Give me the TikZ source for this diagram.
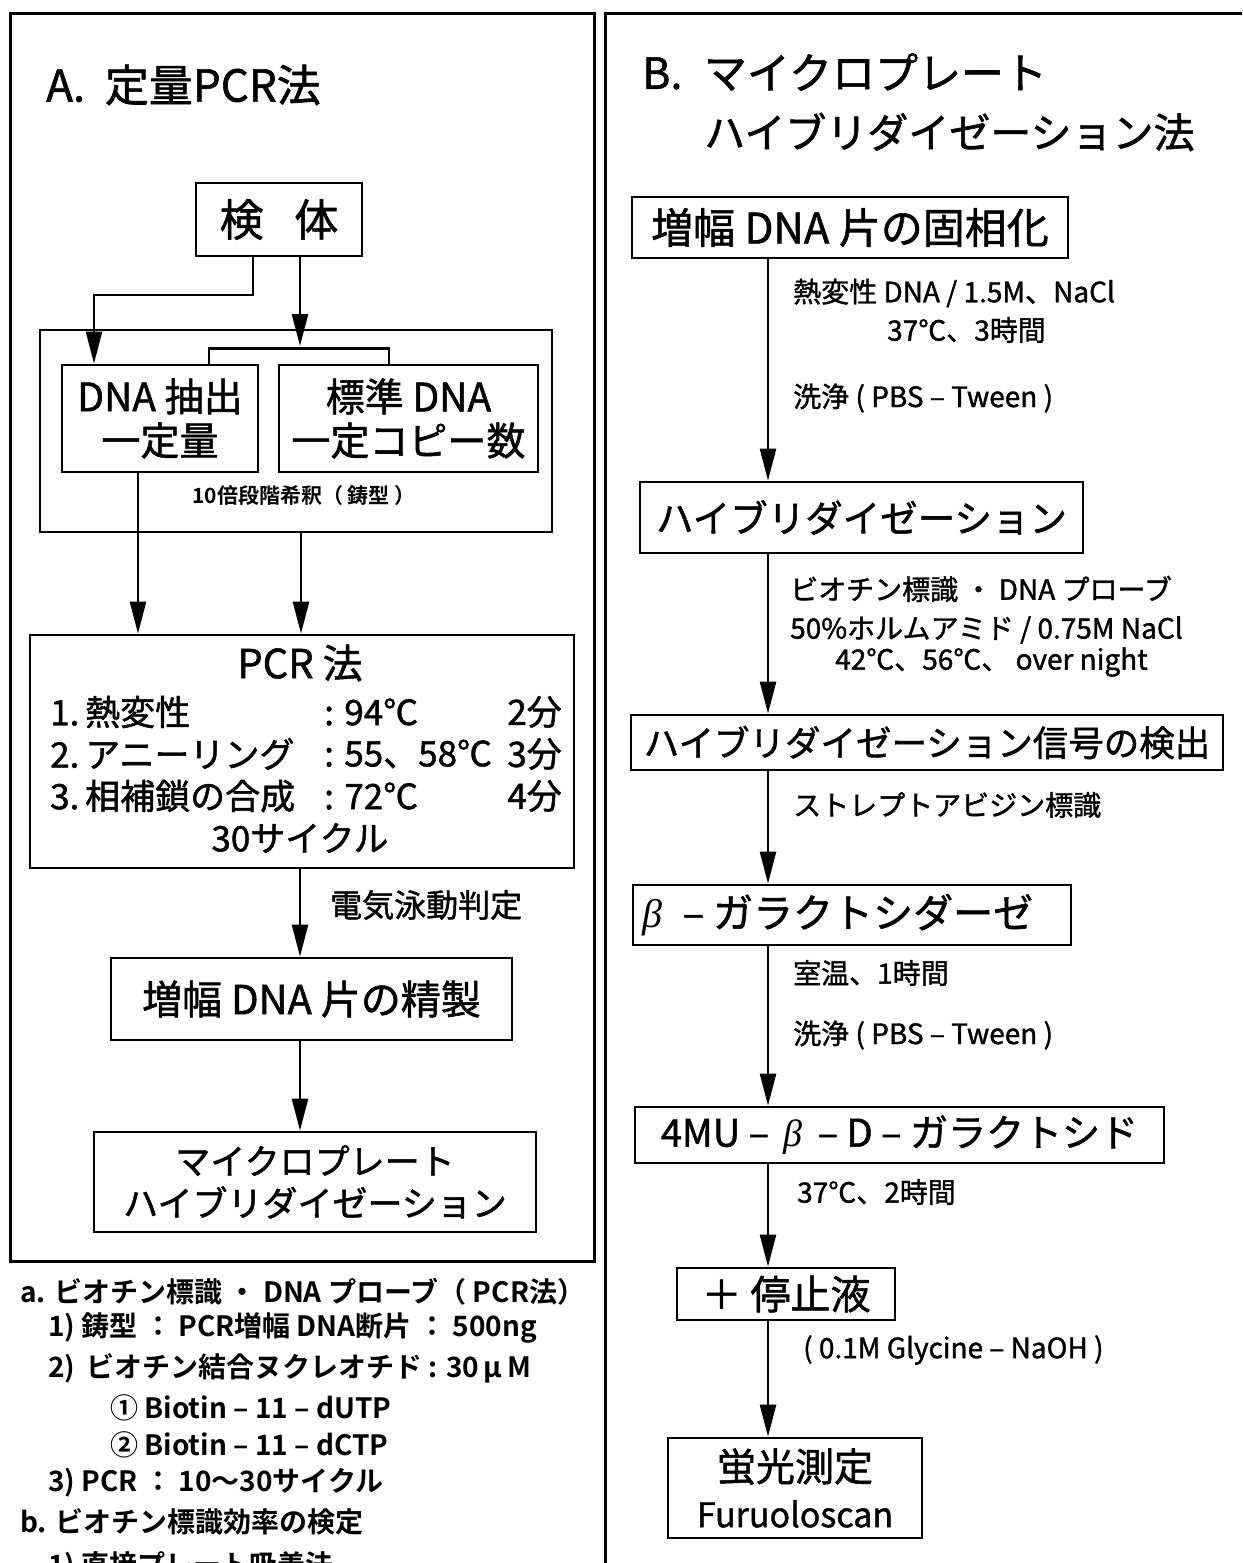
\documentclass[tikz,border=0pt]{standalone}
\usepackage{fontspec}
\setmainfont{Noto Sans CJK JP}[FakeBold=1.3, BoldFont={Noto Sans CJK JP Bold}, BoldFeatures={FakeBold=0}]
\newfontfamily\betafont{Liberation Serif}
\newcommand{\bt}{{\betafont\itshape β}}
\usetikzlibrary{arrows.meta}
\begin{document}
\begin{tikzpicture}[x=1pt,y=-1pt,
  box/.style={draw, line width=2.8pt, inner sep=0pt, align=center},
  arr/.style={line width=2.5pt, -{Triangle[length=32pt,width=16pt]}},
  ln/.style={line width=2.5pt},
  frame/.style={line width=3pt},
  title/.style={anchor=west, inner sep=0pt, font=\fontsize{43}{50}\selectfont},
  lab/.style={anchor=west, inner sep=0pt, font=\fontsize{28}{32}\selectfont},
  row/.style={inner sep=0pt, font=\fontsize{35}{40}\selectfont},
  note/.style={anchor=west, inner sep=0pt, font=\bfseries\fontsize{28}{32}\selectfont}]
\clip (0,0) rectangle (1242,1563);
\fill[white] (0,0) rectangle (1242,1563);

% ---------- Panel A ----------
\node[draw, frame, inner sep=0pt, minimum width=584, minimum height=1247] (panelA) at (302,637.5) {};
\node[title, font=\fontsize{44}{50}\selectfont] (tA) at (46,85) {A.\hspace{0.45em}定量PCR法};

\node[box, minimum width=166, minimum height=73, font=\fontsize{44}{48}\selectfont] (kentai) at (279,219.5) {検\hspace{0.7em}体};

\node[box, minimum width=512, minimum height=202] (grp) at (296,431) {};
\node[box, minimum width=196, minimum height=107, font=\fontsize{39}{44}\selectfont] (dna) at (160,418.5) {DNA 抽出\\一定量};
\node[box, minimum width=259, minimum height=107, font=\fontsize{39}{44}\selectfont] (std) at (408.5,418.5) {標準 DNA\\一定コピー数};
\node[inner sep=0pt, font=\bfseries\fontsize{21}{24}\selectfont] (dil) at (304,496) {10倍段階希釈（ 鋳型 ）};

\draw[ln] ([xshift=49pt]dna.north) -- ++(0,-15) -| ([xshift=-19.5pt]std.north);

\coordinate (kbend) at (94,295);
\coordinate (karr) at (300,346);
\draw[arr] ([xshift=-26pt]kentai.south) |- (kbend) -- (kbend |- dna.north);
\draw[arr] ([xshift=21pt]kentai.south) -- (karr);

\node[box, minimum width=544, minimum height=233] (pcr) at (302,751.5) {};
\node[row, font=\fontsize{40}{44}\selectfont] (pcrT) at (300,663) {PCR 法};
\node[row, anchor=west] (r1a) at (50,712) {1.\,熱変性};
\node[row, anchor=west] (r1b) at (324,712) {: 94℃};
\node[row, anchor=east] (r1c) at (562,712) {2分};
\node[row, anchor=west] (r2a) at (50,754) {2.\,アニーリング};
\node[row, anchor=west] (r2b) at (324,754) {: 55、58℃};
\node[row, anchor=east] (r2c) at (562,754) {3分};
\node[row, anchor=west] (r3a) at (50,796) {3.\,相補鎖の合成};
\node[row, anchor=west] (r3b) at (324,796) {: 72℃};
\node[row, anchor=east] (r3c) at (562,796) {4分};
\node[row] (r4) at (300,838) {30サイクル};

\draw[arr] ([xshift=-22pt]dna.south) -- ([xshift=-22pt]dna.south |- pcr.north);
\draw[arr] ([xshift=5pt]grp.south) -- ([xshift=5pt]grp.south |- pcr.north);

\node[box, minimum width=401, minimum height=82, font=\fontsize{40}{44}\selectfont] (pur) at (311.5,999) {増幅 DNA 片の精製};
\draw[arr] ([xshift=-2pt]pcr.south) -- ([xshift=-2pt]pcr.south |- pur.north);
\node[anchor=west, inner sep=0pt, font=\fontsize{32}{36}\selectfont] (elec) at (330,905) {電気泳動判定};

\node[box, minimum width=442, minimum height=100, font=\fontsize{35}{42}\selectfont] (micro) at (315,1182) {マイクロプレート\\ハイブリダイゼーション};
\draw[arr] ([xshift=-11.5pt]pur.south) -- ([xshift=-11.5pt]pur.south |- micro.north);

% notes
\node[note] (na) at (20,1292) {a. ビオチン標識 ・ DNA プローブ（ PCR法）};
\node[note] (n1) at (48,1328) {1) 鋳型 ： PCR増幅 DNA断片 ： 500ng};
\node[note] (n2) at (48,1368) {2)\, ビオチン結合ヌクレオチド : 30\,μ\,M};
\node[note] (n3) at (110,1408) {① Biotin – 11 – dUTP};
\node[note] (n4) at (110,1445) {② Biotin – 11 – dCTP};
\node[note] (n5) at (48,1483) {3) PCR ： 10～30サイクル};
\node[note] (nb) at (20,1522) {b. ビオチン標識効率の検定};
\node[note] (nb1) at (48,1566) {1) 直接プレート吸着法};

% ---------- Panel B ----------
\draw[frame] (1250,14) -| (605,1570);
\node[title] (tB1) at (642,72) {B.\hspace{0.5em}マイクロプレート};
\node[title, font=\fontsize{41}{46}\selectfont] (tB2) at (704,132) {ハイブリダイゼーション法};

\coordinate (ax) at (768,0);

\node[box, minimum width=436, minimum height=61, font=\fontsize{42}{46}\selectfont] (b1) at (850,227.5) {増幅 DNA 片の固相化};
\node[box, minimum width=443, minimum height=71, font=\fontsize{37.5}{42}\selectfont] (b2) at (861.5,517.5) {ハイブリダイゼーション};
\node[box, minimum width=592, minimum height=55, font=\fontsize{35.5}{40}\selectfont] (b3) at (927,742.5) {ハイブリダイゼーション信号の検出};
\node[box, minimum width=438, minimum height=60, font=\fontsize{40}{44}\selectfont] (b4) at (852,915) {\bt\hspace{0.5em}– ガラクトシダーゼ\hspace{0.7em}};
\node[box, minimum width=529, minimum height=56, font=\fontsize{38}{42}\selectfont] (b5) at (899.5,1135) {4MU – \,\bt\, – D – ガラクトシド};
\node[box, minimum width=218, minimum height=52, font=\fontsize{40}{44}\selectfont] (b6) at (786,1294) {＋ 停止液};
\node[box, minimum width=254, minimum height=100, font=\fontsize{39}{46}\selectfont] (b7) at (795,1488) {蛍光測定\\{\fontsize{34}{40}\selectfont Furuoloscan}};

\draw[arr] (b1.south -| ax) -- (b2.north -| ax);
\draw[arr] (b2.south -| ax) -- (b3.north -| ax);
\draw[arr] (b3.south -| ax) -- (b4.north -| ax);
\draw[arr] (b4.south -| ax) -- (b5.north -| ax);
\draw[arr] (b5.south -| ax) -- (b6.north -| ax);
\draw[arr] (b6.south -| ax) -- (b7.north -| ax);

\node[lab] (l1a) at (793,293) {熱変性 DNA / 1.5M、NaCl};
\node[lab] (l1b) at (887,330) {37℃、3時間};
\node[lab] (l1c) at (793,398) {洗浄 ( PBS – Tween )};
\node[lab] (l2a) at (790,589) {ビオチン標識 ・ DNA プローブ};
\node[lab] (l2b) at (790,630) {50\%ホルムアミド / 0.75M NaCl};
\node[lab] (l2c) at (835,662) {42℃、56℃、 over night};
\node[lab] (l3) at (793,805) {ストレプトアビジン標識};
\node[lab] (l4a) at (793,973) {室温、1時間};
\node[lab] (l4b) at (793,1035) {洗浄 ( PBS – Tween )};
\node[lab] (l5) at (797,1192) {37℃、2時間};
\node[lab] (l6) at (803,1350) {( 0.1M Glycine – NaOH )};
\end{tikzpicture}
\end{document}
